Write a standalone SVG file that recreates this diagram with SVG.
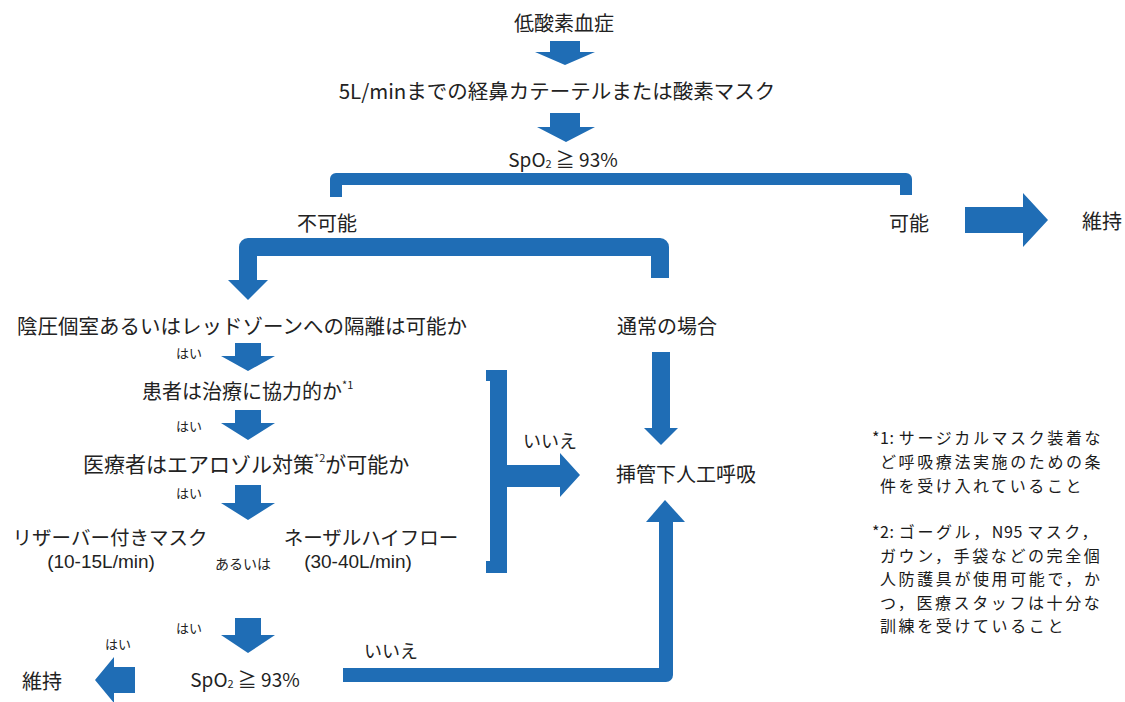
<svg xmlns="http://www.w3.org/2000/svg" width="1125" height="702" viewBox="0 0 1125 702">
<defs>
<style>
text{font-family:"Noto Sans CJK JP","Noto Sans",sans-serif;fill:#222;dominant-baseline:central}
.m{font-size:20px;text-anchor:middle}
.l{font-size:20px}
.s{font-size:13px;text-anchor:middle}
.n{font-size:18px;text-anchor:middle}
.lat{font-family:"Liberation Sans",Arial,sans-serif;font-size:19px;text-anchor:middle}
.note{font-size:16px;letter-spacing:2.6px;fill:#1a1a1a}
.tight{letter-spacing:0.6px}
.sup{font-size:11px}
.a{fill:#1f6db5}
.b{fill:none;stroke:#1f6db5;stroke-linejoin:round}
</style>
</defs>
<rect width="1125" height="702" fill="#fff"/>
<g id="connectors">
<polygon class="a" points="550,41 580,41 580,52 595,52 565,65 535,52 550,52"/>
<polygon class="a" points="550,113 580,113 580,127 595,127 566,142 537,127 550,127"/>
<path class="b" stroke-width="12" d="M336,197 V179 H906 V195"/>
<polygon class="a" points="965,207 1023,207 1023,193 1048,220 1023,247 1023,233 965,233"/>
<path class="b" stroke-width="18" d="M660,278 V247 H248 V282"/>
<polygon class="a" points="228,280 268,280 248,300"/>
<polygon class="a" points="235,343 261,343 261,356 275,356 248,371 221,356 235,356"/>
<polygon class="a" points="235,410 261,410 261,423 275,423 248,440 221,423 235,423"/>
<polygon class="a" points="235,485 261,485 261,503 275,503 248,520 221,503 235,503"/>
<polygon class="a" points="235,618 261,618 261,635 275,635 248,653 221,635 235,635"/>
<polygon class="a" points="652,352 670,352 670,428 678,428 661,445 644,428 652,428"/>
<polygon class="a" points="486,370 507,370 507,465 560,465 560,453 580,475 560,497 560,487 507,487 507,573 486,573 486,561 490,561 490,381 486,381"/>
<path class="b" stroke-width="14" d="M343,675 H666 V520"/>
<polygon class="a" points="646,522 685,522 665,500"/>
<polygon class="a" points="135,667 135,693 114,693 114,703 95,680 114,657 114,667"/>
</g>
<g id="n-hypoxemia"><text class="m" x="564" y="22">低酸素血症</text></g>
<g id="n-cannula"><text class="m" x="557" y="90" style="font-size:20.5px">5L/minまでの経鼻カテーテルまたは酸素マスク</text></g>
<g id="n-spo2-top"><text class="m" x="563" y="158" style="font-size:19px">SpO<tspan class="sup" dy="5">2</tspan><tspan dy="-5"> ≧ 93%</tspan></text></g>
<g id="n-impossible"><text class="m" x="327" y="222">不可能</text></g>
<g id="n-possible"><text class="m" x="909" y="222">可能</text></g>
<g id="n-maintain-top"><text class="m" x="1102" y="220">維持</text></g>
<g id="n-isolation"><text class="m" x="242" y="325" style="font-size:20.5px">陰圧個室あるいはレッドゾーンへの隔離は可能か</text></g>
<g id="n-normal"><text class="m" x="667" y="325">通常の場合</text></g>
<g id="n-yes1"><text class="s" x="189" y="352">はい</text></g>
<g id="n-cooperative"><text class="l" x="142" y="390">患者は治療に協力的か<tspan class="sup" dy="-6">*1</tspan></text></g>
<g id="n-yes2"><text class="s" x="189" y="425">はい</text></g>
<g id="n-aerosol"><text class="l" x="83" y="463" style="font-size:21px">医療者はエアロゾル対策<tspan class="sup" dy="-6">*2</tspan><tspan dy="6">が可能か</tspan></text></g>
<g id="n-yes3"><text class="s" x="189" y="492">はい</text></g>
<g id="n-no1"><text class="n" x="550" y="440">いいえ</text></g>
<g id="n-intubation"><text class="m" x="686" y="473">挿管下人工呼吸</text></g>
<g id="n-reservoir"><text class="m" x="110" y="536" style="font-size:19.5px">リザーバー付きマスク</text><text class="lat" x="101" y="561">(10-15L/min)</text></g>
<g id="n-or"><text class="m" x="243" y="563" style="font-size:14px">あるいは</text></g>
<g id="n-hfnc"><text class="m" x="371" y="536" style="font-size:19.5px">ネーザルハイフロー</text><text class="lat" x="358" y="561">(30-40L/min)</text></g>
<g id="n-yes4"><text class="s" x="189" y="627">はい</text></g>
<g id="n-yes5"><text class="s" x="118" y="643">はい</text></g>
<g id="n-maintain-bottom"><text class="m" x="42" y="680">維持</text></g>
<g id="n-spo2-bottom"><text class="m" x="245" y="678" style="font-size:19px">SpO<tspan class="sup" dy="5">2</tspan><tspan dy="-5"> ≧ 93%</tspan></text></g>
<g id="n-no2"><text class="n" x="391" y="650">いいえ</text></g>
<g id="n-notes">
<text class="note" x="872" y="437"><tspan class="tight">*1: </tspan>サージカルマスク装着な</text>
<text class="note" x="880" y="461">ど呼吸療法実施のための条</text>
<text class="note" x="880" y="485">件を受け入れていること</text>
<text class="note" x="872" y="531"><tspan class="tight">*2: </tspan>ゴーグル，<tspan class="tight">N95 </tspan>マスク，</text>
<text class="note" x="880" y="554.5">ガウン，手袋などの完全個</text>
<text class="note" x="880" y="578">人防護具が使用可能で，か</text>
<text class="note" x="880" y="601.5">つ，医療スタッフは十分な</text>
<text class="note" x="880" y="625">訓練を受けていること</text>
</g>
</svg>
